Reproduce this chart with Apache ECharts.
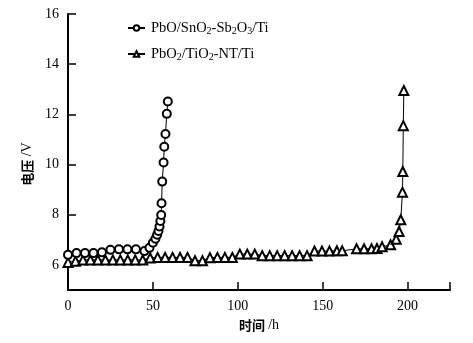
<!DOCTYPE html>
<html>
<head>
<meta charset="utf-8">
<script src="https://cdn.jsdelivr.net/npm/echarts@6/dist/echarts.min.js"></script>
<style>
  html, body { margin: 0; padding: 0; background: #fff; }
  #chart { width: 473px; height: 343px; }
</style>
</head>
<body>
<div id="chart"></div>
<script>
// PbO/SnO2-Sb2O3/Ti 电极 (时间 h, 电压 V)
var timeA = [0, 5, 10, 15, 20, 25, 30, 35, 40, 45, 48, 50, 51.5, 52.5, 53.3, 53.9, 54.4, 54.9, 55.1, 55.5, 56.3, 56.7, 57.4, 58.2, 58.8];
var voltA = [6.4, 6.47, 6.47, 6.47, 6.5, 6.6, 6.62, 6.62, 6.62, 6.55, 6.68, 6.88, 7.04, 7.2, 7.35, 7.53, 7.75, 7.99, 8.46, 9.32, 10.08, 10.71, 11.22, 12.02, 12.51];

// PbO2/TiO2-NT/Ti 电极
var timeB = [0, 4.4, 8.8, 13.2, 17.6, 22, 26.4, 30.8, 35.2, 39.6, 44,
             48.4, 52.8, 57.2, 61.6, 66, 70.4, 74.8, 79.2, 83.6, 88, 92.4, 96.8,
             101.2, 105.6, 110, 114.4, 118.8, 123.2, 127.6, 132, 136.4, 140.8,
             145.2, 149.6, 154, 158.4, 161.5, 170, 174.4, 178.8, 182,
             185, 190, 193.3, 195, 196, 197, 197.2, 197.5, 197.8];
var voltB = [6.1, 6.15, 6.2, 6.2, 6.2, 6.2, 6.2, 6.2, 6.2, 6.2, 6.2,
             6.28, 6.3, 6.3, 6.3, 6.3, 6.3, 6.17, 6.17, 6.29, 6.3, 6.3, 6.3,
             6.43, 6.43, 6.43, 6.37, 6.37, 6.37, 6.37, 6.37, 6.37, 6.37,
             6.55, 6.55, 6.55, 6.56, 6.56, 6.64, 6.64, 6.64, 6.65,
             6.72, 6.8, 7.02, 7.33, 7.8, 8.9, 9.72, 11.55, 12.95];

var seriesNames = ['PbO/SnO2-Sb2O3/Ti', 'PbO2/TiO2-NT/Ti'];
var xTicks = [0, 50, 100, 150, 200];
var yTicks = [6, 8, 10, 12, 14, 16];

function pairs(t, v) {
    var out = [];
    for (var i = 0; i < t.length; i++) out.push([t[i], v[i]]);
    return out;
}

var numFont = 'Liberation Serif';
var cnFont = 'Noto Sans CJK SC';
// 轴标题：中文加粗，单位用衬线体
var nameRich = {
    c: { fontFamily: cnFont, fontSize: 13, fontWeight: 'bold', color: '#000' },
    e: { fontFamily: numFont, fontSize: 14, color: '#000' }
};

var chart = echarts.init(document.getElementById('chart'));
var option = {
    animation: false,
    backgroundColor: '#fff',
    grid: { left: 68, right: 23, top: 14, bottom: 53 },
    legend: {
        orient: 'vertical',
        left: 122,
        top: 14,
        itemGap: 9,
        itemWidth: 17,
        itemHeight: 7,
        data: seriesNames,
        formatter: function (name) {
            if (name === seriesNames[0]) return '{g|}{a|PbO/SnO}{s|2}{a|-Sb}{s|2}{a|O}{s|3}{a|/Ti}';
            return '{g|}{a|PbO}{s|2}{a|/TiO}{s|2}{a|-NT/Ti}';
        },
        textStyle: {
            color: '#000',
            rich: {
                g: { width: 1 },
                a: { fontFamily: numFont, fontSize: 14.5, color: '#000', lineHeight: 16, verticalAlign: 'middle' },
                s: { fontFamily: numFont, fontSize: 10, color: '#000', lineHeight: 16, verticalAlign: 'bottom', padding: [7, 0, 0, 0] }
            }
        }
    },
    xAxis: {
        type: 'value',
        min: 0,
        max: 225,
        name: '{c|时间} {e|/h}',
        nameLocation: 'middle',
        nameGap: 22,
        nameTextStyle: { color: '#000', rich: nameRich },
        axisLine: { lineStyle: { color: '#000', width: 2 } },
        axisTick: { inside: true, length: 8, customValues: xTicks.concat([225]), lineStyle: { color: '#000', width: 1.5 } },
        axisLabel: { customValues: xTicks, margin: 9, fontFamily: numFont, fontSize: 14, color: '#000' },
        splitLine: { show: false }
    },
    yAxis: {
        type: 'value',
        min: 5,
        max: 16,
        name: '{c|电压} {e|/V}',
        nameLocation: 'middle',
        nameRotate: 90,
        nameGap: 29,
        nameTextStyle: { color: '#000', padding: [0, 24, 0, 0], rich: nameRich },
        axisLine: { show: true, lineStyle: { color: '#000', width: 2 } },
        axisTick: { show: true, inside: true, length: 8, customValues: yTicks, lineStyle: { color: '#000', width: 1.5 } },
        axisLabel: { customValues: yTicks, margin: 9, fontFamily: numFont, fontSize: 14, color: '#000' },
        splitLine: { show: false }
    },
    series: [
        {
            name: seriesNames[0],
            type: 'line',
            z: 3,
            data: pairs(timeA, voltA),
            symbol: 'emptyCircle',
            symbolSize: 8,
            color: '#000',
            itemStyle: { color: '#000', borderColor: '#000', borderWidth: 0.9 },
            lineStyle: { color: '#000', width: 1 }
        },
        {
            name: seriesNames[1],
            type: 'line',
            z: 2,
            data: pairs(timeB, voltB),
            symbol: 'emptyTriangle',
            symbolSize: 9,
            color: '#000',
            itemStyle: { color: '#000', borderColor: '#000', borderWidth: 0.9 },
            lineStyle: { color: '#000', width: 1 }
        }
    ]
};
chart.setOption(option);
</script>
</body>
</html>
